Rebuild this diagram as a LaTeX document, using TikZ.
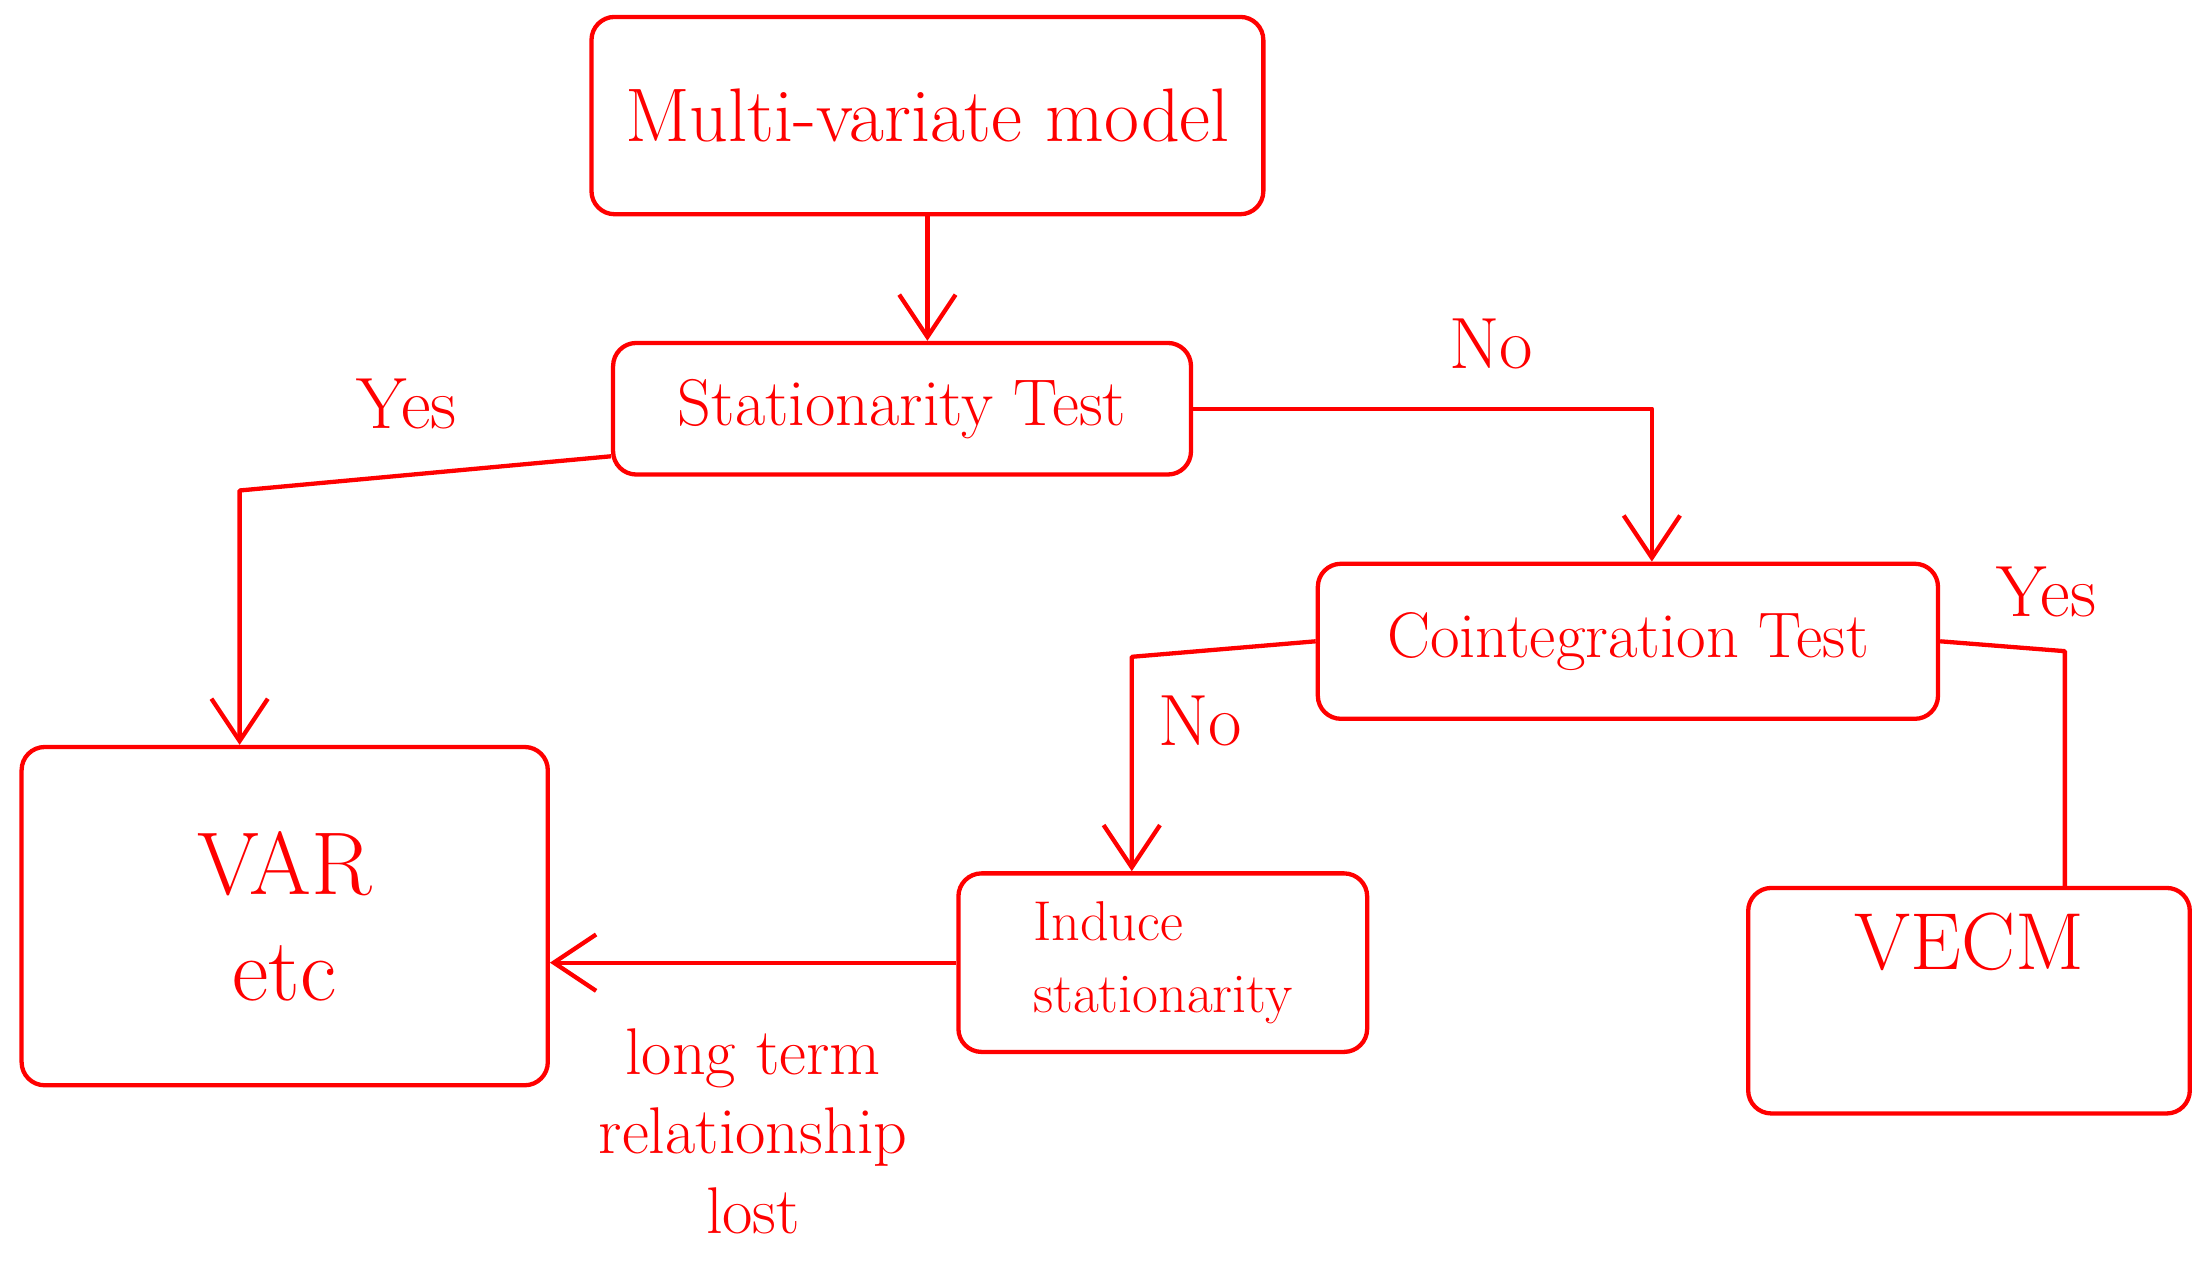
\documentclass[tikz,border=0pt]{standalone}
\usepackage{xcolor}
\usepackage{tikz}
\usetikzlibrary{arrows.meta,calc,positioning}
\definecolor{pen}{HTML}{FF0000}

\begin{document}
\begin{tikzpicture}[x=0.015cm,y=-0.015cm,>={Straight Barb[length=4.5mm,width=6mm]},
  box/.style={draw=pen,line width=1.3pt,rounded corners=7pt,text=pen,align=center,inner sep=2pt},
  link/.style={draw=pen,line width=1.3pt,line join=round},
  lbl/.style={text=pen,font=\fontsize{22}{26}\selectfont}]
\useasboundingbox (0,0) rectangle (1568,902);
% the boxes
\node[box,minimum width=7.15cm,minimum height=2.1cm,font=\fontsize{23}{27}\selectfont] (model) at (658,82) {Multi-variate model};
\node[box,minimum width=6.15cm,minimum height=1.4cm,font=\fontsize{20}{24}\selectfont] (stat) at (640,290) {Stationarity Test};
\node[box,minimum width=6.6cm,minimum height=1.65cm,font=\fontsize{19.5}{24}\selectfont] (coint) at (1155,455) {Cointegration Test};
\node[box,minimum width=5.6cm,minimum height=3.6cm,font=\fontsize{27}{32}\selectfont] (var) at (202,650) {VAR\\etc};
\node[box,align=left,minimum width=4.35cm,minimum height=1.9cm,font=\fontsize{17}{22}\selectfont] (induce) at (825,683) {Induce\\stationarity};
\node[box,minimum width=4.7cm,inner sep=0pt,text height=0.87cm,text depth=1.53cm,font=\fontsize{24.5}{28}\selectfont] (vecm) at (1397,710) {VECM};
% bends of the connectors
\coordinate (yesstart) at ($(stat.west)!0.7!(stat.south west)$);
\coordinate (yesbend) at (170,348);
\coordinate (nobend) at (1172,290);
\coordinate (nobendb) at (803,466);
\coordinate (yesbendb) at (1465,462);
% connectors
\draw[link,->] (model.south) -- (model.south |- stat.north);
\draw[link,->] (yesstart) -- node[lbl,above=10pt,pos=0.55] (yesa) {Yes} (yesbend) -- (yesbend |- var.north);
\draw[link,->] (stat.east) -- node[lbl,above=8pt,pos=0.65] (noa) {No} (nobend) -- (nobend |- coint.north);
\draw[link,->] (coint.west) -- (nobendb) -- node[lbl,right=4pt,pos=0.3] (nob) {No} (nobendb |- induce.north);
\draw[link] (coint.east) -- node[lbl,above=6pt,pos=0.85] (yesb) {Yes} (yesbendb) -- (yesbendb |- vecm.north);
\draw[link,->] (induce.west) -- node[lbl,below=16pt,pos=0.5,align=center,font=\fontsize{20}{24}\selectfont] (lost) {long term\\relationship\\lost} (induce.west -| var.east);
\end{tikzpicture}
\end{document}
